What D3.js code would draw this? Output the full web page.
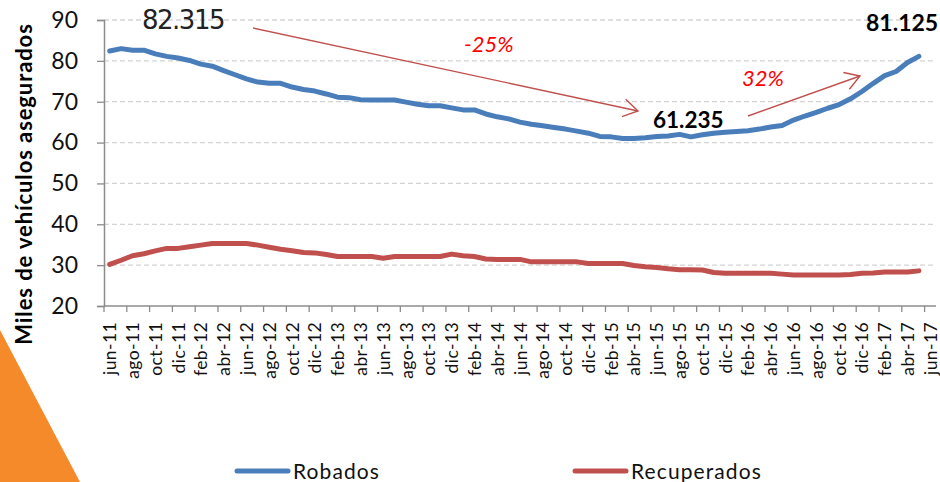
<!DOCTYPE html>
<html>
<head>
<meta charset="utf-8">
<script src="https://cdn.jsdelivr.net/npm/d3@7"></script>
<style>
  body { margin: 0; background: #fff; }
  svg { display: block; font-family: Lato, "Liberation Sans", sans-serif; }
</style>
</head>
<body>
<svg width="940" height="482"></svg>
<script>
// monthly categories jun-11 .. jun-17
var months = ["jun-11","jul-11","ago-11","sep-11","oct-11","nov-11","dic-11",
  "ene-12","feb-12","mar-12","abr-12","may-12","jun-12","jul-12","ago-12","sep-12","oct-12","nov-12","dic-12",
  "ene-13","feb-13","mar-13","abr-13","may-13","jun-13","jul-13","ago-13","sep-13","oct-13","nov-13","dic-13",
  "ene-14","feb-14","mar-14","abr-14","may-14","jun-14","jul-14","ago-14","sep-14","oct-14","nov-14","dic-14",
  "ene-15","feb-15","mar-15","abr-15","may-15","jun-15","jul-15","ago-15","sep-15","oct-15","nov-15","dic-15",
  "ene-16","feb-16","mar-16","abr-16","may-16","jun-16","jul-16","ago-16","sep-16","oct-16","nov-16","dic-16",
  "ene-17","feb-17","mar-17","abr-17","may-17","jun-17"];

var robados = [82.4,83.0,82.6,82.6,81.7,81.1,80.7,80.1,79.2,78.7,77.6,76.6,75.6,74.8,74.5,74.5,73.6,73.0,72.6,
  71.9,71.1,71.0,70.5,70.4,70.4,70.4,69.9,69.4,69.0,69.0,68.5,68.0,68.0,67.0,66.3,65.8,65.0,64.5,64.1,63.7,
  63.3,62.8,62.3,61.5,61.4,61.0,61.0,61.2,61.5,61.6,62.0,61.4,61.9,62.3,62.5,62.7,62.9,63.3,63.8,64.2,65.5,
  66.5,67.4,68.4,69.3,70.7,72.5,74.5,76.4,77.4,79.6,81.1];

var recuperados = [30.2,31.2,32.3,32.8,33.5,34.1,34.1,34.5,34.9,35.3,35.3,35.3,35.3,34.9,34.4,33.9,33.5,33.1,33.0,
  32.6,32.1,32.1,32.1,32.1,31.7,32.1,32.1,32.1,32.1,32.1,32.7,32.3,32.1,31.5,31.4,31.4,31.4,30.8,30.8,30.8,
  30.8,30.8,30.4,30.4,30.4,30.4,29.9,29.6,29.4,29.1,28.9,28.9,28.8,28.2,28.0,28.0,28.0,28.0,28.0,27.8,27.6,
  27.6,27.6,27.6,27.6,27.7,28.0,28.1,28.3,28.3,28.3,28.6];

var yTicks = [20, 30, 40, 50, 60, 70, 80, 90];
var seriesNames = ["Robados", "Recuperados"];
var seriesColors = ["#4a7ebb", "#c0504d"];

var svg = d3.select("svg");

// orange corner behind everything
svg.append("path")
    .attr("d", "M0,330 L80,482 L0,482 Z")
    .attr("fill", "#f58a2b");

var x = d3.scaleBand().domain(months).range([104, 936]);
var y = d3.scaleLinear().domain([20, 90]).range([306, 20]);

// gridlines
svg.append("g")
    .selectAll("line")
    .data(yTicks.filter(function (d) { return d > 20; }))
    .enter().append("line")
    .attr("x1", 104).attr("x2", 936)
    .attr("y1", function (d) { return y(d); })
    .attr("y2", function (d) { return y(d); })
    .attr("stroke", "#d4d4d4")
    .attr("stroke-width", 1.3)
    .attr("stroke-dasharray", "5,3");

// y axis
var yAxis = svg.append("g")
    .attr("transform", "translate(104,0)")
    .call(d3.axisLeft(y).tickValues(yTicks).tickSize(7).tickPadding(19));
yAxis.select(".domain").attr("stroke", "#8c8c8c").attr("stroke-width", 1.5);
yAxis.selectAll(".tick line").attr("stroke", "#8c8c8c").attr("stroke-width", 1.3);
yAxis.selectAll("text").attr("font-size", 23).attr("fill", "#111")
    .attr("font-family", "Lato, sans-serif");

// x axis: ticks every 2 months on category boundaries
var xg = svg.append("g").attr("transform", "translate(0,306)");
xg.append("line").attr("x1", 104).attr("x2", 936)
    .attr("stroke", "#8c8c8c").attr("stroke-width", 1.5);
var every2 = months.filter(function (d, i) { return i % 2 === 0; });
xg.selectAll(".tk").data(every2).enter().append("line")
    .attr("x1", function (d) { return x(d); })
    .attr("x2", function (d) { return x(d); })
    .attr("y1", 0).attr("y2", 6)
    .attr("stroke", "#8c8c8c").attr("stroke-width", 1.3);
xg.selectAll(".lbl").data(every2).enter().append("text")
    .attr("transform", function (d) {
        return "translate(" + (x(d) + x.bandwidth() / 2 + 6.5) + ",16) rotate(-90)";
    })
    .attr("text-anchor", "end")
    .attr("font-size", 17.5)
    .attr("letter-spacing", 0.4)
    .attr("fill", "#111")
    .text(function (d) { return d; });

// y axis title
svg.append("text")
    .attr("transform", "translate(32,184) rotate(-90)")
    .attr("text-anchor", "middle")
    .attr("font-size", 22)
    .attr("font-weight", "bold")
    .attr("letter-spacing", 0.9)
    .attr("fill", "#000")
    .text("Miles de vehículos asegurados");

// lines
var line = d3.line()
    .x(function (d, i) { return x(months[i]) + x.bandwidth() / 2; })
    .y(function (d) { return y(d); });

[robados, recuperados].forEach(function (s, k) {
    svg.append("path")
        .datum(s)
        .attr("fill", "none")
        .attr("stroke", seriesColors[k])
        .attr("stroke-width", 5)
        .attr("stroke-linejoin", "round")
        .attr("stroke-linecap", "round")
        .attr("d", line);
});

// annotations
function arrow(x1, y1, x2, y2) {
    var g = svg.append("g").attr("stroke", "#c0504d").attr("stroke-width", 1.4).attr("fill", "none");
    g.append("line").attr("x1", x1).attr("y1", y1).attr("x2", x2).attr("y2", y2);
    var a = Math.atan2(y2 - y1, x2 - x1), L = 17, w = 0.55;
    g.append("path").attr("d",
        "M" + (x2 - L * Math.cos(a - w)) + "," + (y2 - L * Math.sin(a - w)) +
        " L" + x2 + "," + y2 +
        " L" + (x2 - L * Math.cos(a + w)) + "," + (y2 - L * Math.sin(a + w)));
}
arrow(253, 28, 638, 111);
arrow(748, 116, 860, 76);

svg.append("text").attr("x", 142).attr("y", 29)
    .attr("font-size", 26).attr("fill", "#222")
    .attr("font-family", "'DejaVu Sans', sans-serif").attr("letter-spacing", -1.5)
    .text("82.315");
svg.append("text").attr("x", 464).attr("y", 52)
    .attr("font-size", 22).attr("font-style", "italic").attr("fill", "#ff0000")
    .text("-25%");
svg.append("text").attr("x", 742).attr("y", 86)
    .attr("font-size", 22).attr("font-style", "italic").attr("fill", "#ff0000")
    .text("32%");
svg.append("text").attr("x", 653).attr("y", 128)
    .attr("font-size", 22.5).attr("font-weight", "bold").attr("fill", "#000")
    .text("61.235");
svg.append("text").attr("x", 866).attr("y", 31)
    .attr("font-size", 23).attr("font-weight", "bold").attr("fill", "#000")
    .text("81.125");

// legend
var legX = [237, 575];
seriesNames.forEach(function (n, k) {
    svg.append("line")
        .attr("x1", legX[k]).attr("x2", legX[k] + 51)
        .attr("y1", 471).attr("y2", 471)
        .attr("stroke", seriesColors[k]).attr("stroke-width", 5)
        .attr("stroke-linecap", "round");
    svg.append("text")
        .attr("x", legX[k] + 56).attr("y", 479)
        .attr("font-size", 21).attr("fill", "#111")
        .attr("letter-spacing", 1.1)
        .text(n);
});
</script>
</body>
</html>
